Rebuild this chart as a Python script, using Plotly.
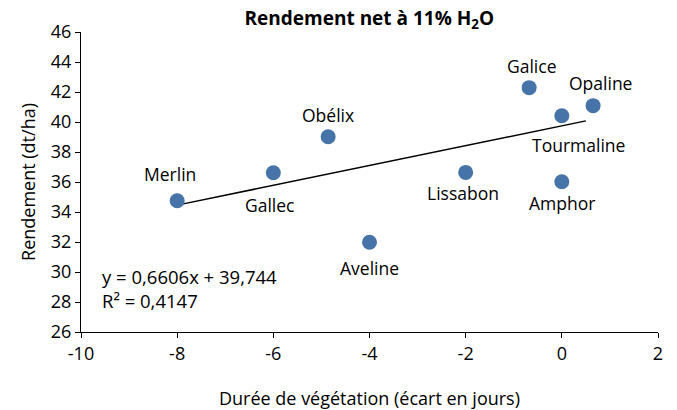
import plotly.graph_objects as go

# ---- data ----
varieties = ["Merlin", "Gallec", "Obélix", "Aveline", "Lissabon", "Galice", "Tourmaline", "Opaline", "Amphor"]
duree = [-8.0, -6.0, -4.86, -4.0, -2.0, -0.68, 0.0, 0.65, 0.0]
rendement = [34.75, 36.62, 39.02, 31.98, 36.64, 42.29, 40.42, 41.09, 36.02]
trend_slope = 0.6606
trend_intercept = 39.744
trend_r2 = 0.4147
trend_range = [-8.0, 0.5]
x_ticks = [-10, -8, -6, -4, -2, 0, 2]
y_ticks = [26, 28, 30, 32, 34, 36, 38, 40, 42, 44, 46]

# label offsets in pixels (dx, dy; dy positive = up)
label_offsets = {
    "Merlin": (-7, 27), "Gallec": (-3, -32), "Obélix": (0, 22), "Aveline": (0, -26),
    "Lissabon": (-3, -21), "Galice": (3, 22), "Tourmaline": (17, -29),
    "Opaline": (7, 23), "Amphor": (0, -21),
}

FONT = "Open Sans"
fig = go.Figure()

trend_y = [trend_slope * v + trend_intercept for v in trend_range]
fig.add_trace(go.Scatter(x=trend_range, y=trend_y, mode="lines",
                         line=dict(color="black", width=1.5), hoverinfo="skip"))
fig.add_trace(go.Scatter(x=duree, y=rendement, mode="markers",
                         marker=dict(size=15, color="#4674A8"), hoverinfo="x+y"))

for name, xv, yv in zip(varieties, duree, rendement):
    dx, dy = label_offsets[name]
    fig.add_annotation(x=xv, y=yv, text=name, showarrow=False, xshift=dx, yshift=dy,
                       font=dict(family=FONT, size=17.5, color="black"))

eq = "y = " + f"{trend_slope:.4f}".replace(".", ",") + "x + " + f"{trend_intercept:.3f}".replace(".", ",")
r2 = "R² = " + f"{trend_r2:.4f}".replace(".", ",")
fig.add_annotation(xref="paper", yref="paper", x=0.033, y=0.145, xanchor="left", yanchor="middle",
                   align="left", text=eq + "<br>" + r2, showarrow=False,
                   font=dict(family=FONT, size=18.5, color="black"))

fig.update_layout(
    width=677, height=410,
    margin=dict(l=81, r=19, t=32, b=78),
    paper_bgcolor="white", plot_bgcolor="white",
    showlegend=False,
    font=dict(family=FONT, size=18, color="black"),
    title=dict(text="<b>Rendement net à 11% H<sub>2</sub>O</b>", x=0.5455, xanchor="center",
               y=0.955, yanchor="middle", font=dict(family=FONT, size=19, color="black")),
)
fig.update_xaxes(range=[-10, 2], tickvals=x_ticks, ticktext=[str(v) for v in x_ticks],
                 showline=True, linecolor="black", linewidth=1.2, ticks="outside", ticklen=5,
                 tickcolor="black", showgrid=False, zeroline=False, automargin=False,
                 tickfont=dict(family=FONT, size=18),
                 title=dict(text="Durée de végétation (écart en jours)", standoff=29,
                            font=dict(family=FONT, size=18)))
fig.update_yaxes(range=[26, 46], tickvals=y_ticks, automargin=False,
                 showline=True, linecolor="black", linewidth=1.2, ticks="outside", ticklen=5,
                 tickcolor="black", showgrid=False, zeroline=False,
                 tickfont=dict(family=FONT, size=18),
                 title=dict(text="Rendement (dt/ha)", standoff=10, font=dict(family=FONT, size=18)))

fig.write_html("out.html", config={"displayModeBar": False},
               post_script="document.body.style.margin='0';")
